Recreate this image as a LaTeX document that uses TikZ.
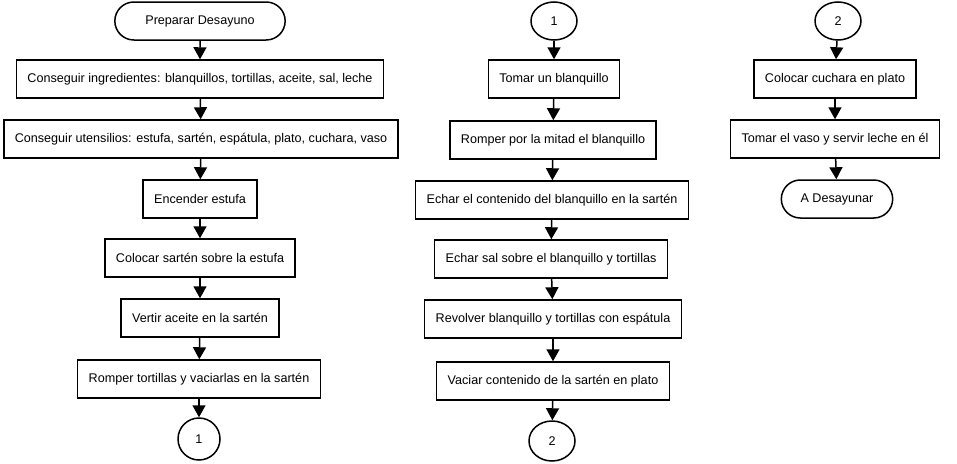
\documentclass[tikz,border=0pt]{standalone}
\usepackage{fontspec}
\setmainfont{Liberation Sans}
\usetikzlibrary{arrows.meta,shapes.geometric,shapes.misc}

\begin{document}
\begin{tikzpicture}[x=1pt,y=-1pt,line width=1.5pt,
        >={Triangle[width=13pt,length=12pt]},
        box/.style={draw,rectangle,minimum height=38pt,inner xsep=11pt,font=\fontsize{12.6}{14}\selectfont},
        term/.style={draw,rounded rectangle,minimum height=38pt,font=\fontsize{12.6}{14}\selectfont},
        conn/.style={draw,ellipse,minimum width=46pt,minimum height=38pt,inner sep=0pt,font=\fontsize{12.6}{14}\selectfont}]
        \useasboundingbox(0,0)rectangle(957,463);
        % primera columna
        \node[term,minimum width=177pt](inicio)at(200,21){Preparar Desayuno};
        \node[box](ingr)at(200,79){Conseguir ingredientes: blanquillos, tortillas, aceite, sal, leche};
        \node[box](uten)at(201,139){Conseguir utensilios: estufa, sartén, espátula, plato, cuchara, vaso};
        \node[box](encender)at(200,199){Encender estufa};
        \node[box](sarten)at(200,258){Colocar sartén sobre la estufa};
        \node[box](aceite)at(200,318){Vertir aceite en la sartén};
        \node[box](tortillas)at(199,379){Romper tortillas y vaciarlas en la sartén};
        \node[conn,minimum width=42pt,minimum height=42pt](unoA)at(199,439){1};
        % segunda columna
        \node[conn](unoB)at(554,21){1};
        \node[box](tomar)at(554,79){Tomar un blanquillo};
        \node[box](romper)at(553,140){Romper por la mitad el blanquillo};
        \node[box](echar)at(552,200){Echar el contenido del blanquillo en la sartén};
        \node[box](sal)at(551,259){Echar sal sobre el blanquillo y tortillas};
        \node[box](revolver)at(553,319){Revolver blanquillo y tortillas con espátula};
        \node[box](vaciar)at(553,381){Vaciar contenido de la sartén en plato};
        \node[conn,minimum height=40pt](dosA)at(552,441){2};
        % tercera columna
        \node[conn](dosB)at(838,21){2};
        \node[box](cuchara)at(835,79){Colocar cuchara en plato};
        \node[box](vaso)at(835,139){Tomar el vaso y servir leche en él};
        \node[term,minimum width=118pt](fin)at(837,199){A Desayunar};
        % flechas
        \draw[->](inicio)--(ingr);
        \draw[->](ingr)--(uten);
        \draw[->](uten)--(encender);
        \draw[->](encender)--(sarten);
        \draw[->](sarten)--(aceite);
        \draw[->](aceite)--(tortillas);
        \draw[->](tortillas)--(unoA);
        \draw[->](unoB)--(tomar);
        \draw[->](tomar)--(romper);
        \draw[->](romper)--(echar);
        \draw[->](echar)--(sal);
        \draw[->](sal)--(revolver);
        \draw[->](revolver)--(vaciar);
        \draw[->](vaciar)--(dosA);
        \draw[->](dosB)--(cuchara);
        \draw[->](cuchara)--(vaso);
        \draw[->](vaso)--(fin);
    \end{tikzpicture}
\end{document}
